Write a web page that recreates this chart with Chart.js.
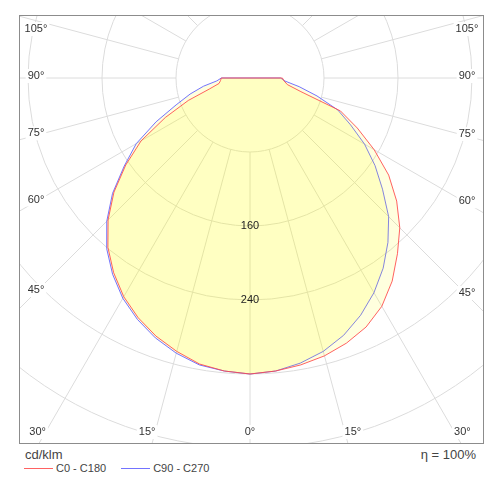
<!DOCTYPE html>
<html>
<head>
<meta charset="utf-8">
<script src="https://cdn.jsdelivr.net/npm/chart.js@4.4.1/dist/chart.umd.min.js"></script>
<style>
  body { margin: 0; background: #fff; font-family: Arial, "Liberation Sans", sans-serif; }
  #frame { position: absolute; left: 19px; top: 15px; width: 463px; height: 427px; border: 1px solid #8c8c8c; overflow: hidden; }
  #wrap { position: absolute; left: -214px; top: -382px; width: 888px; height: 888px; }
  #unit { position: absolute; left: 25px; top: 447px; font-size: 13px; color: #444; }
  #eta { position: absolute; right: 24px; top: 447px; font-size: 13px; color: #444; }
  #legend { position: absolute; left: 24px; top: 462px; font-size: 11px; color: #444; display: flex; align-items: center; }
  .key { display: inline-block; width: 29px; height: 0; border-top: 1px solid; margin-right: 3px; }
  .item { display: flex; align-items: center; margin-right: 15px; }
</style>
</head>
<body>
<div id="frame"><div id="wrap"><canvas id="polar"></canvas></div></div>
<div id="unit">cd/klm</div>
<div id="eta">η = 100%</div>
<div id="legend"></div>
<script>
// gamma angles (deg from nadir) and intensities in cd/klm
const gammas = [0, 5, 10, 15, 20, 25, 30, 35, 40, 45, 50, 55, 60, 65, 70, 75, 80, 85, 90];
const c0   = [320, 318, 315, 311, 305, 297, 285, 268, 248, 229, 207, 183, 155, 128, 104, 57, 41, 37, 35];
const c180 = [320, 318, 314, 306, 297, 286, 273, 257, 239, 217, 192, 164, 136, 101, 71, 45, 34, 32, 31];
const c90  = [320, 318, 313, 306, 296, 283, 268, 251, 232, 212, 187, 165, 143, 120, 101, 75, 54, 38, 33];
const c270 = [320, 318, 315, 308, 299, 288, 275, 259, 241, 219, 194, 166, 142, 112, 85, 67, 51, 36, 31];

const seriesNames = ['C0 - C180', 'C90 - C270'];
const seriesColors = ['rgba(255,70,70,0.85)', 'rgba(90,90,255,0.85)'];
const angleLabels = [0, 15, 30, 45, 60, 75, 90, 105];
const ringLabels = [160, 240];

const STEP = 5;
const N = 360 / STEP;
// visible part of the canvas (frame window)
const VIEW = { left: 214, top: 382, right: 214 + 463, bottom: 382 + 427 };

// left half of the plane goes clockwise from the nadir, right half the other way
function plane(left, right) {
  const out = new Array(N).fill(0);
  gammas.forEach((g, k) => {
    out[k] = left[k];
    if (k > 0) out[N - k] = right[k];
  });
  return out;
}

const labels = [];
for (let i = 0; i < N; i++) labels.push(String(i * STEP));

const polarDecor = {
  id: 'polarDecor',
  beforeDatasetsDraw(chart) {
    const s = chart.scales.r;
    const ctx = chart.ctx;
    ctx.save();
    ctx.strokeStyle = '#dcdcdc';
    ctx.lineWidth = 1;
    for (let i = 0; i < N; i += 3) {
      const a = s.getPointPositionForValue(i, 80);
      const b = s.getPointPositionForValue(i, 480);
      ctx.beginPath();
      ctx.moveTo(a.x, a.y);
      ctx.lineTo(b.x, b.y);
      ctx.stroke();
    }
    ctx.restore();
  },
  afterDatasetsDraw(chart) {
    const s = chart.scales.r;
    const ctx = chart.ctx;
    ctx.save();
    ctx.font = '11px Arial, "Liberation Sans", sans-serif';
    ctx.textAlign = 'center';
    ctx.textBaseline = 'middle';

    // ring values
    ctx.fillStyle = '#222';
    ringLabels.forEach(v => {
      const p = s.getPointPositionForValue(0, v);
      ctx.fillText(String(v), p.x, p.y);
    });

    // angle labels at the frame edges
    const L = VIEW.left + 16, R = VIEW.right - 16, T = VIEW.top + 13, B = VIEW.bottom - 11;
    const cx = s.xCenter, cy = s.yCenter;
    angleLabels.forEach(g => {
      const sides = g === 0 ? [-1] : [-1, 1];
      sides.forEach(side => {
        const idx = side < 0 ? g / STEP : (N - g / STEP) % N;
        const p = s.getPointPositionForValue(idx, 480);
        const len = Math.hypot(p.x - cx, p.y - cy);
        const dx = (p.x - cx) / len, dy = (p.y - cy) / len;
        let tSide = Infinity, tBottom = Infinity;
        if (dx < -1e-6) tSide = (L - cx) / dx;
        if (dx > 1e-6) tSide = (R - cx) / dx;
        if (dy > 1e-6) tBottom = (B - cy) / dy;
        const t = Math.min(tSide, tBottom);
        let x = cx + t * dx, y = cy + t * dy;
        if (tBottom < tSide) {
          if (g !== 0) x += Math.sign(dx) * 8;
        } else {
          y -= 2;
        }
        x = Math.min(R, Math.max(L, x));
        y = Math.min(B, Math.max(T, y));
        const text = g + '°';
        const w = ctx.measureText(text).width;
        ctx.fillStyle = '#fff';
        ctx.fillRect(x - w / 2 - 2, y - 7, w + 4, 14);
        ctx.fillStyle = '#333';
        ctx.fillText(text, x, y);
      });
    });
    ctx.restore();
  }
};

new Chart(document.getElementById('polar'), {
  type: 'radar',
  data: {
    labels: labels,
    datasets: [
      {
        label: seriesNames[0],
        data: plane(c180, c0),
        borderColor: seriesColors[0],
        backgroundColor: 'rgba(255,255,0,0.13)',
        fill: true
      },
      {
        label: seriesNames[1],
        data: plane(c270, c90),
        borderColor: seriesColors[1],
        backgroundColor: 'rgba(255,255,0,0.13)',
        fill: true
      }
    ]
  },
  options: {
    responsive: true,
    maintainAspectRatio: false,
    animation: false,
    layout: { padding: 0 },
    elements: {
      line: { borderWidth: 1, tension: 0 },
      point: { radius: 0, hoverRadius: 0 }
    },
    plugins: {
      legend: { display: false },
      tooltip: { enabled: false }
    },
    scales: {
      r: {
        min: 0,
        max: 480,
        startAngle: 180,
        ticks: { display: false, stepSize: 80 },
        grid: { circular: true, color: '#dcdcdc', lineWidth: 1 },
        angleLines: { display: false },
        pointLabels: { display: false }
      }
    }
  },
  plugins: [polarDecor]
});

// legend below the frame
const legend = document.getElementById('legend');
seriesNames.forEach((name, i) => {
  const item = document.createElement('span');
  item.className = 'item';
  const key = document.createElement('span');
  key.className = 'key';
  key.style.borderTopColor = seriesColors[i];
  item.appendChild(key);
  item.appendChild(document.createTextNode(name));
  legend.appendChild(item);
});
</script>
</body>
</html>
